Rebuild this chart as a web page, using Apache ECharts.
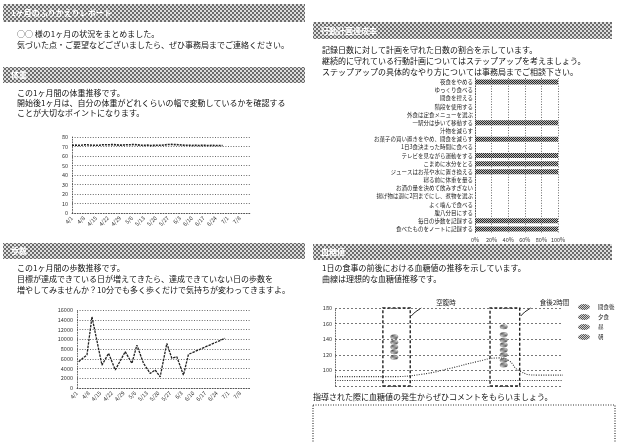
<!DOCTYPE html>
<html>
<head>
<meta charset="utf-8">
<script src="https://cdn.jsdelivr.net/npm/echarts@6/dist/echarts.min.js"></script>
<style>
  html, body { margin: 0; padding: 0; background: #fff; }
  #c { width: 617px; height: 442px; }
</style>
</head>
<body>
<div id="c"></div>
<script>
// ---- data ----
const weekLabels = ['4/1','4/8','4/15','4/22','4/29','5/6','5/13','5/20','5/27','6/3','6/10','6/17','6/24','7/1','7/8'];

// daily weight (kg), day 0 = 4/1
const weightKg = [
  71.3, 71.2, 71.4, 71.3, 71.2, 71.4, 71.5,
  71.8, 71.9, 71.7, 71.6,
  71.4, 71.3, 71.2, 71.3, 71.4, 71.3, 71.5,
  71.8, 72.0, 71.9, 72.1, 71.9, 71.8, 72.0, 71.9, 71.7, 71.6,
  71.4, 71.3, 71.5,
  71.8, 71.9, 72.0, 71.8, 71.9, 72.1, 71.9, 71.8, 71.6,
  71.4, 71.3, 71.2, 71.3, 71.4, 71.2, 71.1, 71.3, 71.2, 71.4, 71.3, 71.2, 71.3, 71.5, 71.6,
  71.9, 72.1, 72.0, 72.2, 71.9, 72.0, 71.8, 71.9, 71.7, 71.6,
  71.4, 71.3, 71.2, 71.3, 71.2, 71.1, 71.2, 71.3, 71.2, 71.1, 71.0, 71.2,
  71.1, 71.2, 71.1, 71.0, 71.1, 71.2, 71.1, 71.0, 71.1, 71.0, 71.1, 71.0
];

// step counts on the days they were recorded
const stepDays   = [1, 6, 9, 15, 19, 23, 29, 33, 36, 40, 44, 47, 50, 54, 57, 60, 64, 67, 89];
const stepCounts = [5400, 6800, 14600, 4700, 7100, 3700, 7450, 5050, 8800, 5050, 3000, 3700, 2300, 9150, 6100, 6400, 2650, 6900, 10200];

// action plan items and the share of recorded days each was kept (%)
const planItems = [
  '夜食をやめる',
  'ゆっくり食べる',
  '間食を控える',
  '階段を使用する',
  '外食は定食メニューを選ぶ',
  '一駅分は歩いて移動する',
  '汁物を減らす',
  'お菓子の買い置きをやめ、間食を減らす',
  '1日3食決まった時間に食べる',
  'テレビを見ながら運動をする',
  'こまめに水分をとる',
  'ジュースはお茶や水に置き換える',
  '寝る前に体重を量る',
  'お酒の量を決めて飲みすぎない',
  '揚げ物は週に2回までにし、煮物を選ぶ',
  'よく噛んで食べる',
  '腹八分目にする',
  '毎日の歩数を記録する',
  '食べたものをノートに記録する'
];
const planRates = [100, 0, 0, 0, 0, 100, 0, 100, 0, 100, 100, 100, 0, 0, 0, 0, 0, 100, 100];

// ideal blood glucose curve over the day (time position 0-100, mg/dL)
const curveTime = [0, 24, 38, 51, 62, 72, 76, 81, 89, 100];
const curveGlucose = [92, 92, 95, 103, 111, 116, 113, 99, 94, 94];

// measured readings
const glucoseNames = ['間食後', '夕食', '昼', '朝'];
const breakfastTime = 26;
const breakfastReadings = [143, 136, 130, 124, 117];
const dinnerTime = 74;
const dinnerReadings = [156, 146, 139, 133, 126, 120, 113, 107];

// measurement windows and their captions
const windowRanges = [[21, 33], [68, 81]];
const windowCaptions = ['空腹時', '食後2時間'];

// ---- drawing ----
const FONT = '"Noto Sans CJK JP", "Noto Sans", sans-serif';
const ELLIPSE = 'path://M0,5A10,5 0 1,0 20,5A10,5 0 1,0 0,5Z';

function checker(dark, light, cell) {
  const c = document.createElement('canvas');
  c.width = c.height = cell * 2;
  const g = c.getContext('2d');
  g.fillStyle = light; g.fillRect(0, 0, cell * 2, cell * 2);
  g.fillStyle = dark;
  g.fillRect(0, 0, cell, cell);
  g.fillRect(cell, cell, cell, cell);
  return c;
}
const headFill = { image: checker('#6c6c6c', '#dedede', 2), repeat: 'repeat' };
const barFill = { image: checker('#2a2a2a', '#b8b8b8', 1), repeat: 'repeat' };
const dotFill = { image: checker('#2e2e2e', '#c4c4c4', 1), repeat: 'repeat' };

const axisText = { fontSize: 5.5, color: '#333', fontFamily: FONT };
const dotted = { color: '#444', width: 0.8, type: [1, 1.6] };

const headers = [
  { x: 3, y: 4, w: 302, h: 18, title: '1ヶ月のふりかえりレポート' },
  { x: 3, y: 67, w: 302, h: 16, title: '体重' },
  { x: 313, y: 22, w: 299, h: 17, title: '行動計画達成率' },
  { x: 3, y: 243, w: 302, h: 16, title: '歩数' },
  { x: 313, y: 244, w: 299, h: 16, title: '血糖値' }
];
const paragraphs = [
  { x: 17, y: 34, text: '○○ 様の1ヶ月の状況をまとめました。' },
  { x: 17, y: 45, text: '気づいた点・ご要望などございましたら、ぜひ事務局までご連絡ください。' },
  { x: 17, y: 93, text: 'この1ヶ月間の体重推移です。' },
  { x: 17, y: 103, text: '開始後1ヶ月は、自分の体重がどれくらいの幅で変動しているかを確認する' },
  { x: 17, y: 113, text: 'ことが大切なポイントになります。' },
  { x: 322, y: 50, text: '記録日数に対して計画を守れた日数の割合を示しています。' },
  { x: 322, y: 61, text: '継続的に守れている行動計画についてはステップアップを考えましょう。' },
  { x: 322, y: 72, text: 'ステップアップの具体的なやり方については事務局までご相談下さい。' },
  { x: 17, y: 268, text: 'この1ヶ月間の歩数推移です。' },
  { x: 17, y: 279, text: '目標が達成できている日が増えてきたら、達成できていない日の歩数を' },
  { x: 17, y: 290, text: '増やしてみませんか？10分でも多く歩くだけで気持ちが変わってきますよ。' },
  { x: 322, y: 268, text: '1日の食事の前後における血糖値の推移を示しています。' },
  { x: 322, y: 279, text: '曲線は理想的な血糖値推移です。' },
  { x: 313, y: 397, text: '指導された際に血糖値の発生からぜひコメントをもらいましょう。' }
];

const graphics = [];
headers.forEach(h => {
  graphics.push({ type: 'rect', shape: { x: h.x, y: h.y, width: h.w, height: h.h }, style: { fill: headFill }, silent: true });
  graphics.push({ type: 'text', x: h.x + 8, y: h.y + h.h / 2, style: { text: h.title, fill: '#fff', fontSize: 8, fontFamily: FONT, fontWeight: 'bold', verticalAlign: 'middle' }, silent: true });
});
paragraphs.forEach(p => {
  graphics.push({ type: 'text', x: p.x, y: p.y, style: { text: p.text, fill: '#111', fontSize: 8, fontFamily: FONT, verticalAlign: 'middle' }, silent: true });
});
// comment box
graphics.push({ type: 'rect', shape: { x: 313, y: 405, width: 302, height: 50 }, style: { fill: 'none', stroke: '#333', lineWidth: 1.2, lineDash: [1, 1.5] }, silent: true });

const dateAxis = (gridIndex) => ({
  gridIndex, type: 'value', min: 0, max: 104, interval: 7,
  axisLine: { show: true, lineStyle: dotted },
  axisTick: { show: false },
  splitLine: { show: false },
  axisLabel: { ...axisText, rotate: 45, margin: 4, formatter: v => weekLabels[v / 7] ?? '' }
});
const plainNumber = v => String(v);

const option = {
  animation: false,
  backgroundColor: '#fff',
  grid: [
    { left: 72, top: 137, width: 178, height: 76 },
    { left: 77, top: 310, width: 173, height: 78 },
    { left: 475, top: 78, width: 83, height: 155 },
    { left: 335, top: 308, width: 228, height: 78 }
  ],
  legend: {
    data: glucoseNames, orient: 'vertical', left: 573, top: 299,
    itemWidth: 14, itemHeight: 6, itemGap: 4, icon: ELLIPSE, selectedMode: false,
    textStyle: { fontSize: 5.5, color: '#222', fontFamily: FONT, padding: [0, 0, 0, 2] }
  },
  xAxis: [
    dateAxis(0),
    dateAxis(1),
    {
      gridIndex: 2, type: 'value', min: 0, max: 100, interval: 20,
      axisLine: { show: false }, axisTick: { show: false },
      splitLine: { lineStyle: dotted },
      axisLabel: { ...axisText, margin: 4, formatter: '{value}%' }
    },
    { gridIndex: 3, type: 'value', min: 0, max: 100, show: false }
  ],
  yAxis: [
    {
      gridIndex: 0, type: 'value', min: 0, max: 80, interval: 10,
      axisLine: { show: true, lineStyle: dotted }, axisTick: { show: false },
      splitLine: { lineStyle: dotted },
      axisLabel: { ...axisText, margin: 4, formatter: plainNumber }
    },
    {
      gridIndex: 1, type: 'value', min: 0, max: 16000, interval: 2000,
      axisLine: { show: true, lineStyle: dotted }, axisTick: { show: false },
      splitLine: { lineStyle: dotted },
      axisLabel: { ...axisText, margin: 4, formatter: plainNumber }
    },
    {
      gridIndex: 2, type: 'category', data: planItems, inverse: true,
      axisLine: { show: true, lineStyle: dotted }, axisTick: { show: false },
      axisLabel: { ...axisText, fontSize: 5.5, color: '#222', margin: 2 }
    },
    {
      gridIndex: 3, type: 'value', min: 80, max: 180, interval: 20,
      axisLine: { show: true, lineStyle: dotted }, axisTick: { show: false },
      splitLine: { lineStyle: { color: '#555', width: 0.8, type: [2, 2] } },
      axisLabel: { ...axisText, margin: 3, showMinLabel: false, formatter: plainNumber }
    }
  ],
  series: [
    {
      type: 'line', xAxisIndex: 0, yAxisIndex: 0,
      data: weightKg.map((v, i) => [i, v]),
      symbol: 'none', lineStyle: { color: '#222', width: 1.6, type: [2, 1] }
    },
    {
      type: 'line', xAxisIndex: 1, yAxisIndex: 1,
      data: stepDays.map((d, i) => [d, stepCounts[i]]),
      symbol: 'none', lineStyle: { color: '#222', width: 1.3, type: [2.5, 1] }
    },
    {
      type: 'bar', xAxisIndex: 2, yAxisIndex: 2,
      data: planRates, barWidth: 5,
      itemStyle: { color: barFill }
    },
    {
      type: 'line', xAxisIndex: 3, yAxisIndex: 3, smooth: true,
      data: curveTime.map((t, i) => [t, curveGlucose[i]]),
      symbol: 'none', lineStyle: { color: '#333', width: 1.1, type: [1, 1.4] },
      markLine: {
        silent: true, symbol: 'none', label: { show: false },
        lineStyle: { color: '#333', width: 1.1, type: [1, 1.4] },
        data: [{ yAxis: 87.5 }]
      },
      markArea: {
        silent: true,
        itemStyle: { color: 'rgba(0,0,0,0)', borderColor: '#222', borderWidth: 1.4, borderType: [3, 2] },
        data: windowRanges.map(r => [{ xAxis: r[0] }, { xAxis: r[1] }])
      }
    },
    { name: '間食後', type: 'scatter', xAxisIndex: 3, yAxisIndex: 3, data: [], itemStyle: { color: dotFill } },
    {
      name: '夕食', type: 'scatter', xAxisIndex: 3, yAxisIndex: 3,
      data: dinnerReadings.map(v => [dinnerTime, v]),
      symbol: ELLIPSE, symbolSize: [8, 5], itemStyle: { color: dotFill }
    },
    { name: '昼', type: 'scatter', xAxisIndex: 3, yAxisIndex: 3, data: [], itemStyle: { color: dotFill } },
    {
      name: '朝', type: 'scatter', xAxisIndex: 3, yAxisIndex: 3,
      data: breakfastReadings.map(v => [breakfastTime, v]),
      symbol: ELLIPSE, symbolSize: [8, 5], itemStyle: { color: dotFill }
    }
  ],
  graphic: graphics
};

const chart = echarts.init(document.getElementById('c'), null, { renderer: 'canvas', width: 617, height: 442 });
chart.setOption(option);

// captions for the measurement windows, anchored on each window's upper right corner
windowRanges.forEach((r, i) => {
  const p = chart.convertToPixel({ gridIndex: 3 }, [r[1], 180]);
  graphics.push({ type: 'polyline', shape: { points: [[p[0] + 1, p[1] + 8], [p[0] + 5, p[1] + 4], [p[0] + 11, p[1]]] }, style: { stroke: '#222', lineWidth: 1, fill: 'none' }, silent: true });
  graphics.push({ type: 'text', x: p[0] + (i === 0 ? 26 : 20), y: p[1] - 5, style: { text: windowCaptions[i], fill: '#222', fontSize: 6.5, fontFamily: FONT, verticalAlign: 'middle' }, silent: true });
});
chart.setOption({ graphic: graphics });
</script>
</body>
</html>
